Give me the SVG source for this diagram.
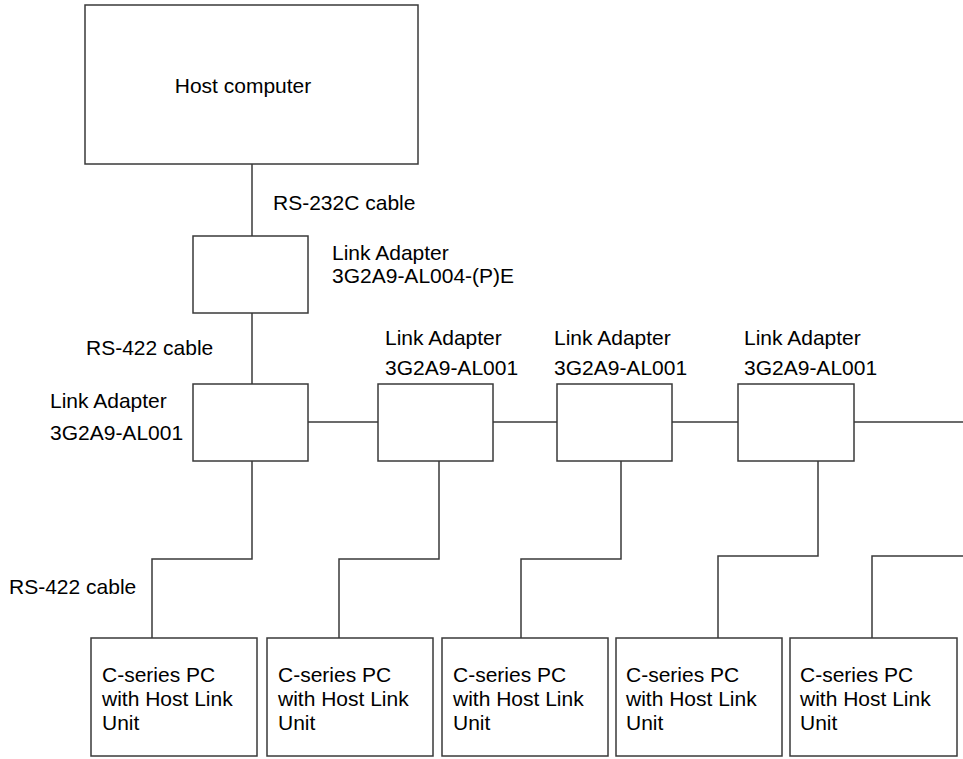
<svg xmlns="http://www.w3.org/2000/svg" width="963" height="759" viewBox="0 0 963 759">
<style>
.box{fill:#fff;stroke:#3a3a3a;stroke-width:1.5}
.wire{fill:none;stroke:#3a3a3a;stroke-width:1.5}
text{font-family:"Liberation Sans",Arial,sans-serif;font-size:21px;fill:#000}
</style>
<rect width="963" height="759" fill="#fff"/>
<g id="connectors">
<path class="wire" d="M252 164V236"/>
<path class="wire" d="M252 313V384"/>
<path class="wire" d="M308 422H378"/>
<path class="wire" d="M493 422H557"/>
<path class="wire" d="M672 422H738"/>
<path class="wire" d="M854 422H963"/>
<path class="wire" d="M252 461V559H152V638"/>
<path class="wire" d="M439 461V559H339V638"/>
<path class="wire" d="M621 461V559H521V638"/>
<path class="wire" d="M818 461V556H718V638"/>
<path class="wire" d="M963 556H872V638"/>
</g>
<g id="labels">
<text x="273" y="210">RS-232C cable</text>
<text x="86" y="355">RS-422 cable</text>
<text x="9" y="594">RS-422 cable</text>
</g>
<g id="host"><rect class="box" x="85" y="5" width="333" height="159"/><text x="243" y="93" text-anchor="middle">Host computer</text></g>
<g id="la004"><rect class="box" x="193" y="236" width="115" height="77"/><text x="332" y="260">Link Adapter</text><text x="332" y="283">3G2A9-AL004-(P)E</text></g>
<g id="la1"><rect class="box" x="193" y="384" width="115" height="77"/><text x="50" y="408">Link Adapter</text><text x="50" y="440">3G2A9-AL001</text></g>
<g id="la2"><rect class="box" x="378" y="384" width="115" height="77"/><text x="385" y="345">Link Adapter</text><text x="385" y="375">3G2A9-AL001</text></g>
<g id="la3"><rect class="box" x="557" y="384" width="115" height="77"/><text x="554" y="345">Link Adapter</text><text x="554" y="375">3G2A9-AL001</text></g>
<g id="la4"><rect class="box" x="738" y="384" width="116" height="77"/><text x="744" y="345">Link Adapter</text><text x="744" y="375">3G2A9-AL001</text></g>
<g id="pc1"><rect class="box" x="91" y="638" width="166" height="118"/><text x="102" y="682">C-series PC</text><text x="102" y="706">with Host Link</text><text x="102" y="730">Unit</text></g>
<g id="pc2"><rect class="box" x="267" y="638" width="166" height="118"/><text x="278" y="682">C-series PC</text><text x="278" y="706">with Host Link</text><text x="278" y="730">Unit</text></g>
<g id="pc3"><rect class="box" x="442" y="638" width="166" height="118"/><text x="453" y="682">C-series PC</text><text x="453" y="706">with Host Link</text><text x="453" y="730">Unit</text></g>
<g id="pc4"><rect class="box" x="616" y="638" width="166" height="118"/><text x="626" y="682">C-series PC</text><text x="626" y="706">with Host Link</text><text x="626" y="730">Unit</text></g>
<g id="pc5"><rect class="box" x="790" y="638" width="167" height="118"/><text x="800" y="682">C-series PC</text><text x="800" y="706">with Host Link</text><text x="800" y="730">Unit</text></g>
</svg>
